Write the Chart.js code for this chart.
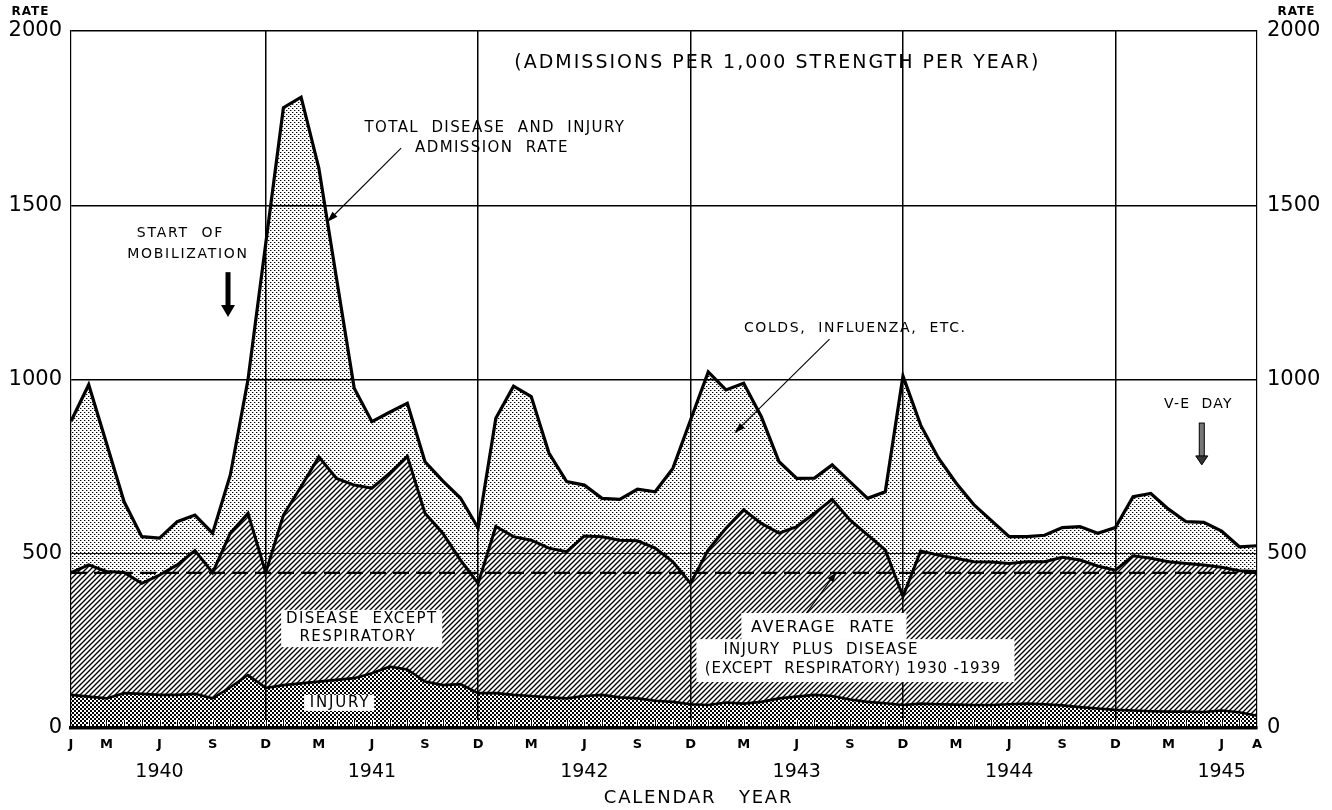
<!DOCTYPE html>
<html>
<head>
<meta charset="utf-8">
<script src="https://cdn.jsdelivr.net/npm/chart.js@4.4.1/dist/chart.umd.min.js"></script>
<style>
html,body{margin:0;padding:0;background:#fff;}
#wrap{width:1332px;height:810px;}
</style>
</head>
<body>
<div id="wrap"><canvas id="c" width="1332" height="810"></canvas></div>
<script>
// ---------- DATA ----------
const monthNames = ['Jan','Feb','Mar','Apr','May','Jun','Jul','Aug','Sep','Oct','Nov','Dec'];
const years = ['1940','1941','1942','1943','1944','1945'];
const categories = [];
years.forEach(yr => monthNames.forEach((m, i) => { if (!(yr === '1945' && i > 7)) categories.push(m + ' ' + yr); }));

const tickLetters = [
  'J','','M','','','J','','','S','','','D',   // 1940
  '','','M','','','J','','','S','','','D',    // 1941
  '','','M','','','J','','','S','','','D',    // 1942
  '','','M','','','J','','','S','','','D',    // 1943
  '','','M','','','J','','','S','','','D',    // 1944
  '','','M','','','J','','A'                  // 1945
];

// Injury admission rate (bottom band)
const injury = [
  95, 90, 85, 100, 98, 95, 95, 98, 85, 117, 152, 115,
  123, 128, 133, 138, 143, 157, 176, 168, 133, 123, 126, 100,
  100, 95, 92, 88, 85, 92, 95, 88, 85, 78, 75, 68,
  66, 73, 70, 75, 85, 90, 95, 92, 82, 75, 71, 66,
  70, 68, 67, 66, 66, 68, 70, 68, 65, 60, 56, 52,
  50, 48, 47, 47, 46, 50, 45, 35
];
// Injury plus disease except respiratory (top of hatched band)
const injuryPlusDisease = [
  446, 468, 449, 446, 415, 439, 468, 509, 446, 559, 616, 446,
  611, 693, 778, 716, 697, 688, 731, 780, 616, 559, 482, 415,
  578, 549, 539, 516, 506, 551, 549, 539, 537, 516, 477, 415,
  511, 573, 626, 587, 559, 578, 616, 656, 597, 554, 511, 377,
  508, 496, 487, 477, 476, 472, 477, 477, 490, 482, 465, 453,
  494, 487, 477, 472, 468, 461, 451, 449
];
// Total disease and injury admission rate (top line)
const totalRate = [
  880, 985, 818, 649, 549, 545, 592, 611, 559, 726, 1000, 1390,
  1780, 1810, 1607, 1290, 975, 879, 906, 932, 764, 709, 660, 574,
  889, 981, 951, 789, 707, 697, 659, 656, 685, 678, 745, 884,
  1022, 970, 989, 893, 764, 716, 717, 755, 707, 659, 678, 1010,
  869, 775, 703, 641, 595, 549, 549, 553, 575, 578, 559, 575,
  664, 673, 628, 592, 590, 565, 520, 523
];
// Average rate, injury plus disease (except respiratory) 1930-1939
const averageRate = 445;

const yTicks = [0, 500, 1000, 1500, 2000];

// ---------- PATTERNS ----------
function makePattern(size, draw) {
  const c = document.createElement('canvas');
  c.width = size; c.height = size;
  const g = c.getContext('2d');
  draw(g, size);
  return g.createPattern(c, 'repeat');
}
const dotPattern = makePattern(4, (g) => {
  g.fillStyle = '#000';
  g.fillRect(0, 0, 1, 1);
  g.fillRect(2, 2, 1, 1);
  g.fillStyle = 'rgba(0,0,0,0.35)';
  g.fillRect(1, 0, 1, 1);
  g.fillRect(3, 2, 1, 1);
});
const hatchPattern = makePattern(5, (g, s) => {
  g.strokeStyle = '#000';
  g.lineWidth = 1.35;
  g.beginPath();
  g.moveTo(0, s); g.lineTo(s, 0);
  g.moveTo(-1, 1); g.lineTo(1, -1);
  g.moveTo(s - 1, s + 1); g.lineTo(s + 1, s - 1);
  g.stroke();
});
const checkPattern = makePattern(4, (g) => {
  g.fillStyle = '#000';
  g.fillRect(0, 0, 2, 2);
  g.fillRect(2, 2, 2, 2);
});

// ---------- ANNOTATIONS (placed in data coordinates: [category index, rate]) ----------
const FONT = '"DejaVu Sans", "Open Sans", sans-serif';
function txt(ctx, s, x, y, size, ls, weight) {
  ctx.save();
  ctx.font = (weight || 'normal') + ' ' + size + 'px ' + FONT;
  ctx.textAlign = 'center';
  ctx.textBaseline = 'middle';
  ctx.fillStyle = '#000';
  if ('letterSpacing' in ctx) ctx.letterSpacing = ls + 'px';
  ctx.fillText(s, x + ls / 2, y);
  ctx.restore();
}
function arrow(ctx, x1, y1, x2, y2, lw, headLen, headW) {
  const a = Math.atan2(y2 - y1, x2 - x1);
  ctx.save();
  ctx.strokeStyle = '#000'; ctx.fillStyle = '#000'; ctx.lineWidth = lw;
  ctx.beginPath();
  ctx.moveTo(x1, y1);
  ctx.lineTo(x2 - Math.cos(a) * headLen * 0.8, y2 - Math.sin(a) * headLen * 0.8);
  ctx.stroke();
  ctx.beginPath();
  ctx.moveTo(x2, y2);
  ctx.lineTo(x2 - Math.cos(a) * headLen + Math.sin(a) * headW / 2, y2 - Math.sin(a) * headLen - Math.cos(a) * headW / 2);
  ctx.lineTo(x2 - Math.cos(a) * headLen - Math.sin(a) * headW / 2, y2 - Math.sin(a) * headLen + Math.cos(a) * headW / 2);
  ctx.closePath();
  ctx.fill();
  ctx.restore();
}

const bgPlugin = {
  id: 'bg',
  beforeDraw(chart) {
    const ctx = chart.ctx;
    ctx.save(); ctx.fillStyle = '#fff'; ctx.fillRect(0, 0, chart.width, chart.height); ctx.restore();
  }
};

const annotate = {
  id: 'annotate',
  afterDatasetsDraw(chart) {
    const { ctx, chartArea, scales: { x, y } } = chart;
    const X = i => x.getPixelForValue(i);
    const Y = v => y.getPixelForValue(v);

    // month tick marks along the bottom, inside the plot
    ctx.save();
    for (let i = 1; i < categories.length - 1; i++) {
      const px = Math.round(X(i)) + 0.5;
      ctx.strokeStyle = '#fff'; ctx.lineWidth = 3;
      ctx.beginPath(); ctx.moveTo(px, chartArea.bottom - 2); ctx.lineTo(px, chartArea.bottom - 8); ctx.stroke();
      ctx.strokeStyle = '#000'; ctx.lineWidth = 1;
      ctx.beginPath(); ctx.moveTo(px, chartArea.bottom - 2); ctx.lineTo(px, chartArea.bottom - 8); ctx.stroke();
    }
    ctx.restore();

    // white label boxes
    ctx.save();
    ctx.fillStyle = '#fff';
    const box = (i1, v1, i2, v2) => ctx.fillRect(X(i1), Y(v1), X(i2) - X(i1), Y(v2) - Y(v1));
    box(11.87, 339, 20.97, 232);   // disease except respiratory
    box(13.17, 95, 17.13, 49);     // injury
    box(37.87, 330, 47.2, 253);    // average rate (top line)
    box(35.33, 255, 53.3, 132);    // average rate (lower lines)
    ctx.restore();

    txt(ctx, '(ADMISSIONS PER 1,000 STRENGTH PER YEAR)', X(39.85), Y(1907), 19, 2);
    txt(ctx, 'TOTAL  DISEASE  AND  INJURY', X(23.91), Y(1722), 15, 1.4);
    txt(ctx, 'ADMISSION  RATE', X(23.74), Y(1664), 15, 1.4);
    arrow(ctx, X(18.65), Y(1664), X(14.47), Y(1452), 1.1, 11, 7);

    txt(ctx, 'START  OF', X(6.13), Y(1420), 14, 1.8);
    txt(ctx, 'MOBILIZATION', X(6.56), Y(1360), 14, 1.7);
    arrow(ctx, X(8.87), Y(1308), X(8.87), Y(1179), 5, 12, 14);

    txt(ctx, 'COLDS,  INFLUENZA,  ETC.', X(44.26), Y(1148), 14, 1.6);
    arrow(ctx, X(42.85), Y(1116), X(37.48), Y(846), 1.1, 11, 7);

    txt(ctx, 'V-E  DAY', X(63.65), Y(930), 14, 1.2);
    // outlined V-E day arrow
    ctx.save();
    const vx = X(63.88), vy1 = Y(875), vy2 = Y(755);
    ctx.fillStyle = '#777'; ctx.strokeStyle = '#000'; ctx.lineWidth = 1;
    ctx.fillRect(vx - 2.5, vy1, 5, vy2 - vy1 - 8);
    ctx.strokeRect(vx - 2.5, vy1, 5, vy2 - vy1 - 8);
    ctx.beginPath(); ctx.moveTo(vx - 6, vy2 - 9); ctx.lineTo(vx + 6, vy2 - 9); ctx.lineTo(vx, vy2); ctx.closePath();
    ctx.fillStyle = '#333'; ctx.fill(); ctx.stroke();
    ctx.restore();

    txt(ctx, 'DISEASE  EXCEPT', X(16.39), Y(313), 15, 1.4);
    txt(ctx, 'RESPIRATORY', X(16.17), Y(261), 15, 1.4);
    txt(ctx, 'INJURY', X(15.15), Y(72), 15, 1.8);

    txt(ctx, 'AVERAGE  RATE', X(42.45), Y(287), 16, 1.5);
    txt(ctx, 'INJURY  PLUS  DISEASE', X(42.34), Y(224), 15, 1.2);
    txt(ctx, '(EXCEPT  RESPIRATORY) 1930 -1939', X(44.15), Y(169), 15, 0.8);
    arrow(ctx, X(41.55), Y(330), X(43.24), Y(447), 1.1, 10, 7);

    // axis headers and title
    txt(ctx, 'RATE', chartArea.left - 41, 12, 12, 1, 'bold');
    txt(ctx, 'RATE', chartArea.right + 39, 12, 12, 1, 'bold');
    txt(ctx, 'CALENDAR   YEAR', X(35.4), chart.height - 12, 18, 1.8);
  }
};

// ---------- CHART ----------
const lineBase = { pointRadius: 0, pointHoverRadius: 0, tension: 0, borderColor: '#000', borderJoinStyle: 'miter' };

new Chart(document.getElementById('c'), {
  type: 'line',
  data: {
    labels: categories,
    datasets: [
      { ...lineBase, label: 'Injury', data: injury, fill: 'origin', backgroundColor: checkPattern, borderWidth: 2.6, order: 3 },
      { ...lineBase, label: 'Disease except respiratory', data: injuryPlusDisease, fill: '-1', backgroundColor: hatchPattern, borderWidth: 3, order: 4 },
      { ...lineBase, label: 'Colds, influenza, etc.', data: totalRate, fill: '-1', backgroundColor: dotPattern, borderWidth: 3.2, order: 5 },
      { ...lineBase, label: 'Average rate 1930-1939', data: [{ x: categories[0], y: averageRate }, { x: categories[categories.length - 1], y: averageRate }],
        fill: false, borderWidth: 2.4, borderDash: [16, 7], order: 1 }
    ]
  },
  options: {
    responsive: false,
    animation: false,
    devicePixelRatio: 1,
    layout: { padding: { top: 31, left: 0, right: 0, bottom: 0 } },
    plugins: { legend: { display: false }, tooltip: { enabled: false }, title: { display: false } },
    scales: {
      x: {
        type: 'category',
        position: 'bottom',
        weight: 0,
        offset: false,
        afterFit: s => { s.height = 30; },
        grid: {
          drawTicks: false,
          color: c => (c.index % 12 === 11) ? '#000' : 'rgba(0,0,0,0)',
          lineWidth: 1.5
        },
        border: { display: true, color: '#000', width: 3.5 },
        ticks: {
          autoSkip: false, maxRotation: 0, minRotation: 0, padding: 9,
          color: '#000', font: { family: FONT, size: 13, weight: 'bold' },
          callback: (v, i) => tickLetters[i]
        }
      },
      x2: {
        type: 'category',
        position: 'bottom',
        weight: 1,
        offset: false,
        labels: categories,
        afterFit: s => { s.height = 52; },
        grid: { display: false, drawTicks: false },
        border: { display: false },
        ticks: {
          autoSkip: false, maxRotation: 0, minRotation: 0, padding: 3,
          color: '#000', font: { family: FONT, size: 19 },
          callback: (v, i) => categories[i].startsWith('Jun') ? categories[i].slice(4) : ''
        }
      },
      y: {
        position: 'left',
        min: 0, max: 2000,
        afterFit: s => { s.width = 71; },
        afterBuildTicks: s => { s.ticks = yTicks.map(v => ({ value: v })); },
        grid: {
          drawTicks: false,
          color: c => c.tick.value === 0 ? 'rgba(0,0,0,0)' : '#000',
          lineWidth: c => c.tick.value === 500 ? 0.9 : 1.4
        },
        border: { display: true, color: '#000', width: 1.2 },
        ticks: { padding: 9, color: '#000', font: { family: FONT, size: 21 }, callback: v => String(v) }
      },
      y2: {
        position: 'right',
        min: 0, max: 2000,
        afterFit: s => { s.width = 75; },
        afterBuildTicks: s => { s.ticks = yTicks.map(v => ({ value: v })); },
        grid: { display: false, drawTicks: false },
        border: { display: true, color: '#000', width: 1.2 },
        ticks: { padding: 10, color: '#000', font: { family: FONT, size: 21 }, callback: v => String(v) }
      }
    }
  },
  plugins: [bgPlugin, annotate]
});
</script>
</body>
</html>
